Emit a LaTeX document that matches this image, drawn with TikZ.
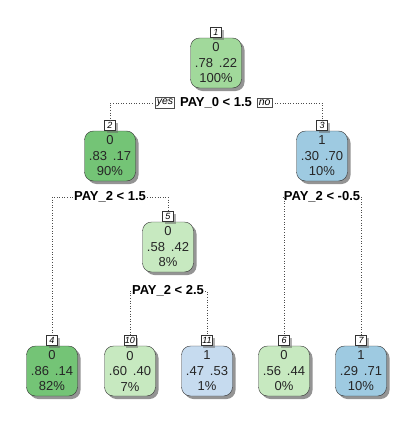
\documentclass[tikz,border=0pt]{standalone}
\usepackage{fontspec}
\setmainfont{Liberation Sans}
\usetikzlibrary{positioning,shadows}
\definecolor{grA}{HTML}{A1D99B}
\definecolor{grB}{HTML}{74C476}
\definecolor{grC}{HTML}{C7E9C0}
\definecolor{blA}{HTML}{9ECAE1}
\definecolor{blC}{HTML}{C6DBEF}

\begin{document}
\begin{tikzpicture}[x=1pt,y=-1pt,
  leaf/.style={draw=black!80,rounded corners=9pt,minimum width=51pt,minimum height=50pt,
    inner sep=0pt,align=center,text=black!85,font=\fontsize{13}{15.5}\selectfont,
    drop shadow={shadow xshift=3pt,shadow yshift=-3pt,fill=black!70,opacity=0.6}},
  tag/.style={draw=black!80,fill=white,inner sep=1pt,minimum width=11pt,minimum height=10pt,
    font=\fontsize{9}{9}\itshape\selectfont,
    drop shadow={shadow xshift=2pt,shadow yshift=-2pt,fill=black!60,opacity=0.5}},
  split/.style={font=\fontsize{13}{14}\bfseries\selectfont,inner sep=1pt},
  yn/.style={draw=black!70,fill=white,inner sep=1.5pt,font=\fontsize{10.5}{10.5}\itshape\selectfont},
  link/.style={dotted,black!70,line width=0.6pt}]
\useasboundingbox (0,0) rectangle (413,423);
% root and first split
\node[leaf,fill=grA] (n1) at (216,63) {0\\.78\hspace{6pt}.22\\100\%};
\node[tag,above=0pt of n1] (t1) {1};
\node[split] (s1) at (216,103) {PAY\_0 < 1.5};
\node[yn,left=4pt of s1] (yes) {yes};
\node[yn,right=4pt of s1] (no) {no};
% second level
\node[leaf,fill=grB] (n2) at (110,156) {0\\.83\hspace{6pt}.17\\90\%};
\node[tag,above=0pt of n2] (t2) {2};
\node[leaf,fill=blA] (n3) at (322,156) {1\\.30\hspace{6pt}.70\\10\%};
\node[tag,above=0pt of n3] (t3) {3};
\node[split] (s2) at (110,197) {PAY\_2 < 1.5};
\node[split] (s3) at (322,197) {PAY\_2 < -0.5};
% node 5
\node[leaf,fill=grC] (n5) at (168,247) {0\\.58\hspace{6pt}.42\\8\%};
\node[tag,above=0pt of n5] (t5) {5};
\node[split] (s5) at (168,291) {PAY\_2 < 2.5};
% leaves
\foreach \k/\x/\col/\cls/\fa/\fb/\fc in {4/52/grB/0/.86/.14/82,10/130/grC/0/.60/.40/7,
    11/207/blC/1/.47/.53/1,6/284/grC/0/.56/.44/0,7/361/blA/1/.29/.71/10} {
  \node[leaf,fill=\col] (n\k) at (\x,371) {\cls\\\fa\hspace{6pt}\fb\\\fc\%};
  \node[tag,above=0pt of n\k] (t\k) {\k};
}
\draw[link] (yes.west) -| (t2.north);
\draw[link] (no.east) -| (t3.north);
\draw[link] (s2.west) -| (t4.north);
\draw[link] (s2.east) -| (t5.north);
\draw[link] (s3.west) -| (t6.north);
\draw[link] (s3.east) -| (t7.north);
\draw[link] (s5.west) -| (t10.north);
\draw[link] (s5.east) -| (t11.north);
\end{tikzpicture}
\end{document}
